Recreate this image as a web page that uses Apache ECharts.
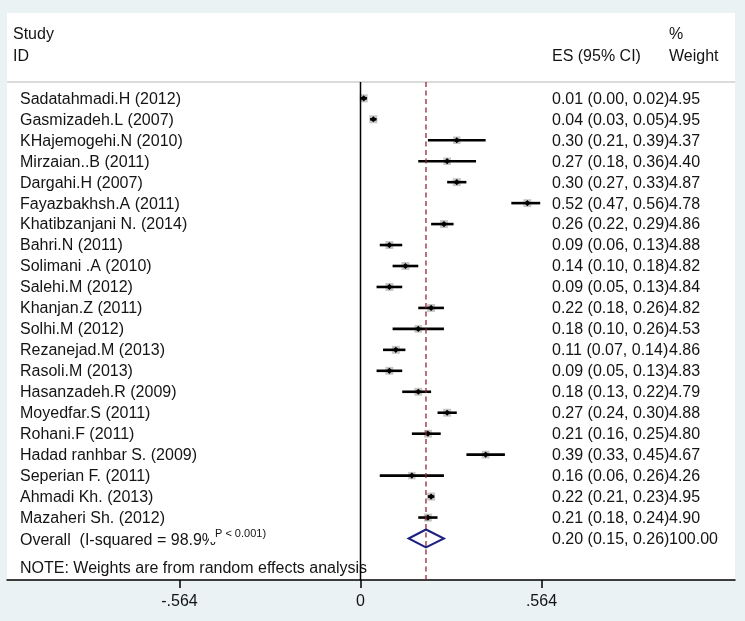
<!DOCTYPE html>
<html><head><meta charset="utf-8">
<script src="https://cdn.jsdelivr.net/npm/echarts@6/dist/echarts.min.js"></script>
<style>html,body{margin:0;padding:0;background:#eaf2f3;}#c{width:745px;height:621px;}</style>
</head><body><div id="c"></div>
<script>
const studies = ["Sadatahmadi.H (2012)","Gasmizadeh.L (2007)","KHajemogehi.N (2010)","Mirzaian..B (2011)","Dargahi.H (2007)","Fayazbakhsh.A (2011)","Khatibzanjani N. (2014)","Bahri.N (2011)","Solimani .A (2010)","Salehi.M (2012)","Khanjan.Z (2011)","Solhi.M (2012)","Rezanejad.M (2013)","Rasoli.M (2013)","Hasanzadeh.R (2009)","Moyedfar.S (2011)","Rohani.F (2011)","Hadad ranhbar S. (2009)","Seperian F. (2011)","Ahmadi Kh. (2013)","Mazaheri Sh. (2012)"];
const es = [0.01,0.04,0.30,0.27,0.30,0.52,0.26,0.09,0.14,0.09,0.22,0.18,0.11,0.09,0.18,0.27,0.21,0.39,0.16,0.22,0.21];
const ciLow = [0.00,0.03,0.21,0.18,0.27,0.47,0.22,0.06,0.10,0.05,0.18,0.10,0.07,0.05,0.13,0.24,0.16,0.33,0.06,0.21,0.18];
const ciHigh = [0.02,0.05,0.39,0.36,0.33,0.56,0.29,0.13,0.18,0.13,0.26,0.26,0.14,0.13,0.22,0.30,0.25,0.45,0.26,0.23,0.24];
const weights = [4.95,4.95,4.37,4.40,4.87,4.78,4.86,4.88,4.82,4.84,4.82,4.53,4.86,4.83,4.79,4.88,4.80,4.67,4.26,4.95,4.90];
const overallLabel = "Overall  (I-squared = 98.9%";
const overallP = "P < 0.001)";
const overallES = 0.204, overallLow = 0.15, overallHigh = 0.26, overallWeight = 100.00;
const noteText = "NOTE: Weights are from random effects analysis";
const headerLeft = ["Study", "ID"];
const headerES = "ES (95% CI)";
const headerWeight = ["%", "Weight"];
const tickValues = [-0.564, 0, 0.564];

const XMIN = -1.1016, XMAX = 1.1670;
const YMIN = -4.07, YMAX = 22.98;
const RULE_ROW = -0.78;
const FONT = "'Liberation Sans', Arial, Helvetica, sans-serif";
const FS = 16;
const NAME_X = 20, CI_X = 552, W_X = 669;

function fmt(v){ return v.toFixed(2); }
const txt = (s, x, y, extra) => ({type:'text', x:x, y:y, style:Object.assign({text:s, font:FS+'px '+FONT, fill:'#141414', verticalAlign:'middle', align:'left'}, extra||{})});

const rowData = studies.map((s,i)=>[i, es[i], ciLow[i], ciHigh[i], weights[i]]);

function renderRow(params, api){
  const i = api.value(0), e = api.value(1), lo = api.value(2), hi = api.value(3), w = api.value(4);
  const pE = api.coord([e, i]), pL = api.coord([lo, i]), pH = api.coord([hi, i]);
  const y = pE[1], x = pE[0];
  const s = 3.6 * Math.sqrt(w);
  const d = 3.1;
  return {type:'group', children:[
    {type:'rect', shape:{x:x-s/2, y:y-s/2, width:s, height:s}, style:{fill:'#c6c6c6'}},
    {type:'line', shape:{x1:pL[0], y1:y, x2:pH[0], y2:y}, style:{stroke:'#000', lineWidth:2.6}},
    {type:'polygon', shape:{points:[[x-d,y],[x,y-d],[x+d,y],[x,y+d]]}, style:{fill:'#000'}},
    txt(studies[params.dataIndex], NAME_X, y+1),
    txt(fmt(e)+' ('+fmt(lo)+', '+fmt(hi)+')', CI_X, y+1),
    txt(fmt(w), W_X, y+1)
  ]};
}

function renderOverall(params, api){
  const i = api.value(0);
  const pE = api.coord([api.value(1), i]), pL = api.coord([api.value(2), i]), pH = api.coord([api.value(3), i]);
  const y = pE[1], h = 9;
  return {type:'group', children:[
    {type:'polygon', shape:{points:[[pL[0],y],[pE[0],y-h],[pH[0],y],[pE[0],y+h]]}, style:{fill:'none', stroke:'#1c2180', lineWidth:2}},
    txt(overallLabel, NAME_X, y+2),
    txt(overallP, 209, y-5, {font:'11px '+FONT, backgroundColor:'#fff', padding:[3,2,3,6]}),
    txt(fmt(api.value(1))+' ('+fmt(api.value(2))+', '+fmt(api.value(3))+')', CI_X, y+1),
    txt(fmt(api.value(4)), W_X, y+1)
  ]};
}

function renderHeader(params, api){
  const y = api.coord([0, api.value(0)])[1];
  const k = params.dataIndex;
  const kids = [txt(headerLeft[k], 13, y), txt(headerWeight[k], W_X, y)];
  if (k === 1) kids.push(txt(headerES, CI_X, y));
  return {type:'group', children:kids};
}

function renderNote(params, api){
  const y = api.coord([0, api.value(0)])[1];
  return txt(noteText, NAME_X, y);
}

const chart = echarts.init(document.getElementById('c'), null, {renderer:'canvas'});
chart.setOption({
  animation:false,
  backgroundColor:'#eaf2f3',
  grid:{left:7, right:10, top:13, bottom:41, show:true, backgroundColor:'#ffffff', borderWidth:0},
  xAxis:{type:'value', min:XMIN, max:XMAX,
    axisLine:{show:true, onZero:false, lineStyle:{color:'#000', width:1.5}},
    axisTick:{show:true, customValues:tickValues, length:8, lineStyle:{color:'#000', width:1.5}},
    axisLabel:{show:true, customValues:tickValues, margin:14, fontSize:16, fontFamily:FONT, color:'#141414',
      formatter:v=> v===0 ? '0' : (v<0?'-':'')+'.'+Math.abs(v).toFixed(3).slice(2)},
    splitLine:{show:false}},
  yAxis:{type:'value', inverse:true, min:YMIN, max:YMAX, show:false, splitLine:{show:false}},
  series:[
    {type:'line', data:[[XMIN, RULE_ROW],[XMAX, RULE_ROW]], symbol:'none', lineStyle:{color:'#cfcfcf', width:1.5}, silent:true},
    {type:'line', data:[[0, RULE_ROW],[0, YMAX]], symbol:'none', lineStyle:{color:'#000', width:1.5}, silent:true},
    {type:'line', data:[[overallES, RULE_ROW],[overallES, YMAX]], symbol:'none', lineStyle:{color:'#982236', width:1.3, type:[5,3.5]}, silent:true},
    {type:'custom', renderItem:renderRow, data:rowData, silent:true},
    {type:'custom', renderItem:renderOverall, data:[[studies.length, overallES, overallLow, overallHigh, overallWeight]], silent:true},
    {type:'custom', renderItem:renderHeader, data:[[-3.02],[-1.97]], silent:true},
    {type:'custom', renderItem:renderNote, data:[[22.45]], silent:true}
  ]
});
</script></body></html>
